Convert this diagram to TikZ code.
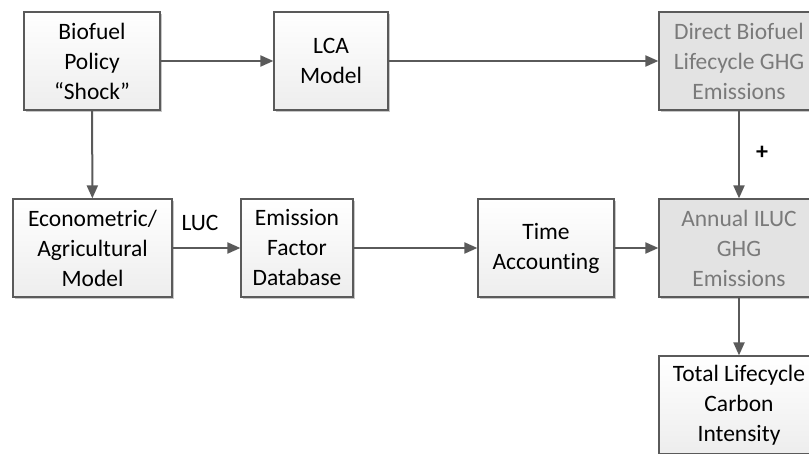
\documentclass[tikz,border=0pt]{standalone}
\usepackage{fontspec}
\setmainfont{Carlito}[Ligatures=NoCommon]
\usetikzlibrary{arrows.meta, positioning, shadows}
\tikzset{>={Triangle[length=13pt,width=11pt]}}
\definecolor{edgegray}{HTML}{5A5A5A}
\definecolor{txtgray}{HTML}{7A7A7A}
\tikzset{
  box/.style={draw=edgegray, line width=1.2pt, top color=white, bottom color=gray!14,
    align=center, minimum height=98pt, inner sep=1pt,
    font=\fontsize{23.5}{30}\selectfont,
    drop shadow={shadow xshift=2pt, shadow yshift=-2pt, fill=black!22, opacity=1}},
  greybox/.style={box, top color=gray!22, bottom color=gray!22, text=txtgray},
  link/.style={->, draw=edgegray, line width=2pt}
}

\begin{document}
\begin{tikzpicture}[x=1pt, y=-1pt]
		\useasboundingbox (0,0) rectangle (809,454);
		\clip (0,0) rectangle (809,454);
		\node[box, minimum width=136pt] (policy) at (92,61) {Biofuel\\Policy\\“Shock”};
		\node[box, minimum width=114pt] (lca) at (331,61) {LCA\\Model};
		\node[greybox, minimum width=160pt] (direct) at (739,61) {Direct Biofuel\\Lifecycle GHG\\Emissions};
		\node[box, minimum width=159pt] (econ) at (92.5,248) {Econometric/\\Agricultural\\Model};
		\node[box, minimum width=112pt] (emis) at (297,248) {Emission\\Factor\\Database};
		\node[box, minimum width=136pt] (time) at (546,248) {Time\\Accounting};
		\node[greybox, minimum width=160pt] (annual) at (739,248) {Annual ILUC\\GHG\\Emissions};
		\node[box, minimum width=160pt] (total) at (739,405) {Total Lifecycle\\Carbon\\Intensity};
		\draw [link](policy)--(lca); \draw [link](lca)--(direct);
		\draw [link](policy)--(econ); \draw [link](econ)--(emis);
		\draw [link](emis)--(time); \draw [link](time)--(annual);
		\draw [link](direct)--(annual); \draw [link](annual)--(total);
		\node[font=\fontsize{23.5}{28}\selectfont] (luc) at (200,223) {LUC};
		\node[font=\fontsize{24}{28}\selectfont\bfseries] (plus) at (762,153) {+};
\end{tikzpicture}
\end{document}
